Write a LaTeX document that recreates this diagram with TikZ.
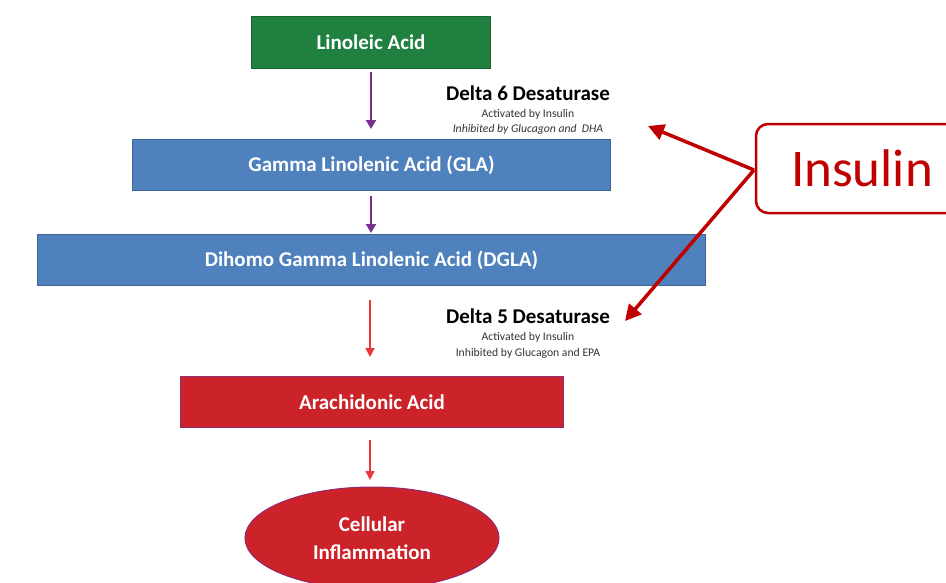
\documentclass[tikz,border=0pt]{standalone}
\usepackage{fontspec}
\setmainfont{Carlito}
\usetikzlibrary{arrows.meta,shapes.geometric}
\definecolor{lgreen}{HTML}{1F8040}
\definecolor{lblue}{HTML}{4F81BD}
\definecolor{lred}{HTML}{CC2229}
\definecolor{arred}{HTML}{E8393A}
\definecolor{ppurple}{HTML}{7A2D8C}
\definecolor{insred}{HTML}{C00000}
\tikzset{
  box/.style={draw=#1!80!black, line width=1pt, fill=#1, inner sep=0pt, anchor=north west},
  boxtext/.style={text=white, font=\bfseries\fontsize{21}{24}\selectfont},
  parrow/.style={draw=ppurple, line width=2pt, -{Triangle[length=9pt,width=10pt]}},
  rarrow/.style={draw=arred, line width=1.5pt, -{Triangle[length=9pt,width=9pt]}},
  insarrow/.style={draw=insred, line width=3.5pt, -{Triangle[length=16pt,width=16pt]}},
  enz/.style={font=\bfseries\fontsize{21}{24}\selectfont, text=black, inner sep=0pt},
  note/.style={font=\fontsize{11.7}{13}\selectfont, text=black!80, inner sep=0pt},
}
\begin{document}
\begin{tikzpicture}[x=1pt,y=-1pt]
\useasboundingbox (0,0) rectangle (946,582);
\node[box=lgreen, minimum width=239pt, minimum height=52pt] (la) at (251,16) {};
\node[boxtext] (lat) at (la.center) {Linoleic Acid};
\node[box=lblue, minimum width=478pt, minimum height=51pt] (gla) at (132,139) {};
\node[boxtext] (glat) at (gla.center) {Gamma Linolenic Acid (GLA)};
\node[box=lblue, minimum width=668pt, minimum height=51pt] (dgla) at (37,234) {};
\node[boxtext] (dglat) at (dgla.center) {Dihomo Gamma Linolenic Acid (DGLA)};
\node[box=lred, draw=ppurple!70!lred, minimum width=383pt, minimum height=51pt] (aa) at (180,376) {};
\node[boxtext] (aat) at (aa.center) {Arachidonic Acid};
\node[ellipse, draw=ppurple!70!lred, line width=1pt, fill=lred, minimum width=254pt, minimum height=102pt, text=white, font=\bfseries\fontsize{21}{28}\selectfont, align=center, inner sep=0pt] (ci) at (372,538) {Cellular\\Inflammation};
% arrows
\coordinate (a1s) at (371,72);
\coordinate (a1e) at (371,129);
\draw[parrow] (a1s) -- (a1e);
\coordinate (a2s) at (371,196);
\coordinate (a2e) at (371,233);
\draw[parrow] (a2s) -- (a2e);
\coordinate (a3s) at (370,300);
\coordinate (a3e) at (370,357);
\draw[rarrow] (a3s) -- (a3e);
\coordinate (a4s) at (370,440);
\coordinate (a4e) at (370,480);
\draw[rarrow] (a4s) -- (a4e);
% enzyme texts
\node[enz] (d6) at (528,93) {Delta 6 Desaturase};
\node[note] (d6a) at (528,114) {Activated by Insulin};
\node[note, font=\itshape\fontsize{11.7}{13}\selectfont] (d6b) at (528,129) {Inhibited by Glucagon and \ DHA};
\node[enz] (d5) at (528,316) {Delta 5 Desaturase};
\node[note] (d5a) at (528,337) {Activated by Insulin};
\node[note] (d5b) at (528,353) {Inhibited by Glucagon and EPA};
% insulin
\draw[insred, line width=2.5pt, rounded corners=12pt, fill=white] (756,124) rectangle (980,213);
\node[text=insred, font=\fontsize{53}{60}\selectfont, inner sep=0pt] (ins) at (862,168) {Insulin};
\coordinate (is) at (754,170);
\coordinate (ie1) at (648,126);
\coordinate (ie2) at (625,321);
\draw[insarrow] (is) -- (ie1);
\draw[insarrow] (is) -- (ie2);
\end{tikzpicture}
\end{document}
